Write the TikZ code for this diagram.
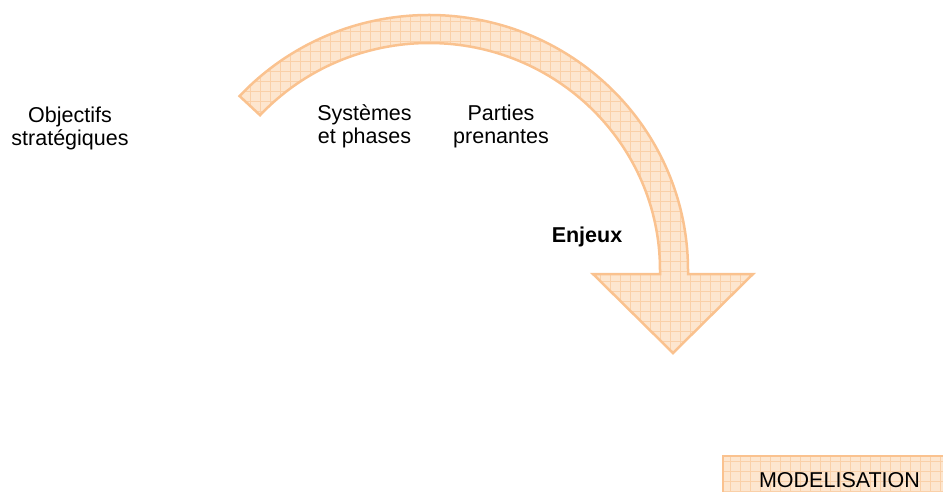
\documentclass[tikz,border=0pt]{standalone}
\usepackage{fontspec}
\setmainfont{Liberation Sans}
\begin{document}
\begin{tikzpicture}[x=1pt,y=1pt,
  lbl/.style={inner sep=0pt, align=center, font=\fontsize{21.5}{22.5}\selectfont},
  gridfill/.style={fill=peach},
  outl/.style={draw=peachline, line width=2.5pt, line join=miter}]
\definecolor{peach}{HTML}{FDE6CF}
\definecolor{peachgrid}{HTML}{FAD0A8}
\definecolor{peachline}{HTML}{FAC28F}
\clip (0,0) rectangle (943,491);
\useasboundingbox (0,0) rectangle (943,491);
% curved arrow
\def\arrowpath{(429,221) ++(137:259pt and 255pt)
  arc[start angle=137, end angle=0, x radius=259pt, y radius=255pt]
  -- (688,217) -- (753,217) -- (673,138) -- (593,217) -- (660,217) -- (660,221)
  arc[start angle=0, end angle=137, x radius=231pt, y radius=227pt] -- cycle}
\begin{scope}
  \clip \arrowpath;
  \fill[peach] (200,100) rectangle (800,491);
  \draw[peachgrid, line width=0.6pt, step=10pt] (200,100) grid (800,491);
\end{scope}
\draw[outl] \arrowpath;
\node[coordinate] (arrow) at (673,138) {};
% modelisation box
\begin{scope}
  \clip (723,-20) rectangle (960,35);
  \fill[peach] (723,-20) rectangle (960,35);
  \draw[peachgrid, line width=0.6pt, step=10pt] (720,-20) grid (960,35);
\end{scope}
\draw[outl] (960,35) -- (723,35) -- (723,-20);
\node[lbl, anchor=base] (model) at (839.5,4) {MODELISATION};
% labels
\node[lbl] (obj) at (70,362.6) {Objectifs\\strat\'egiques};
\node[lbl] (sys) at (364.5,364.6) {Syst\`emes\\et phases};
\node[lbl] (pp) at (501,364.6) {Parties\\prenantes};
\node[lbl, anchor=base, font=\fontsize{21.5}{22.5}\selectfont\bfseries] (enj) at (587,249) {Enjeux};
\end{tikzpicture}
\end{document}
